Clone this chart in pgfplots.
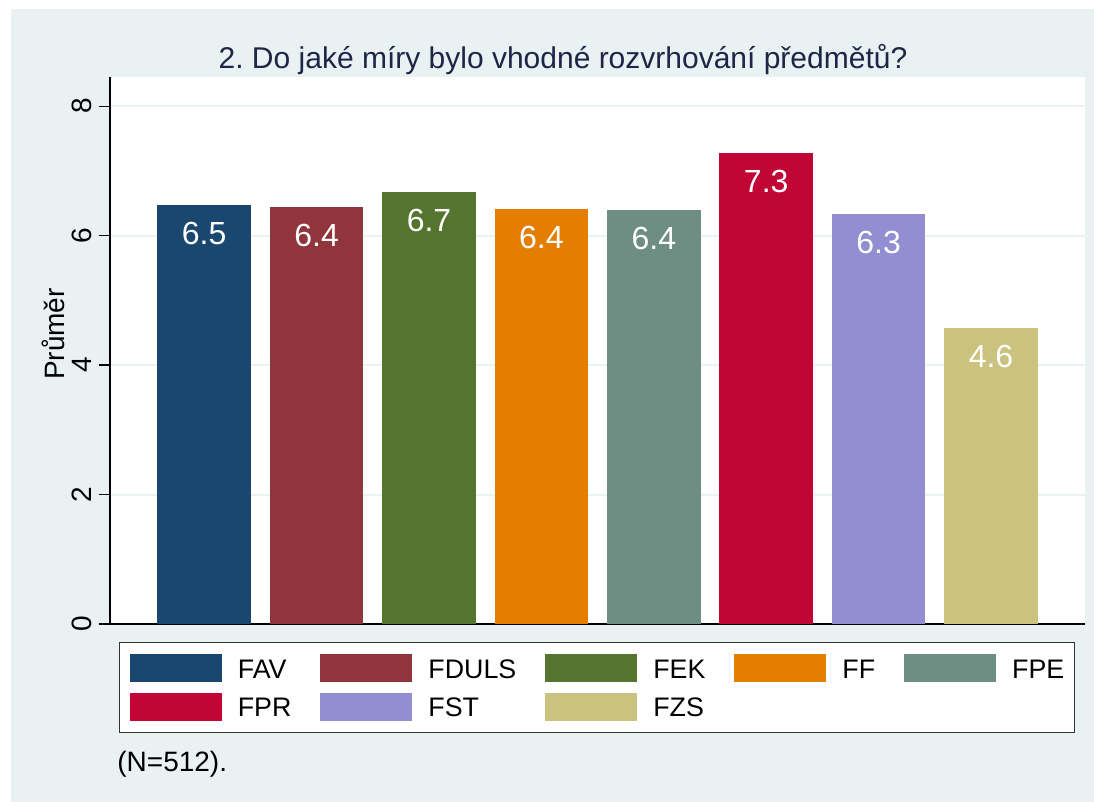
\documentclass[border=0pt]{standalone}
\usepackage{pgfplots}
\pgfplotsset{compat=1.18}
\usepackage{fontspec}
\setmainfont{Liberation Sans}
\frenchspacing
\definecolor{bgcol}{RGB}{233,241,243}
\definecolor{gridcol}{RGB}{234,242,243}
\definecolor{titlecol}{RGB}{28,38,70}
\definecolor{cFAV}{RGB}{26,71,111}
\definecolor{cFDULS}{RGB}{144,53,59}
\definecolor{cFEK}{RGB}{85,117,47}
\definecolor{cFF}{RGB}{227,126,0}
\definecolor{cFPE}{RGB}{110,142,132}
\definecolor{cFPR}{RGB}{193,5,52}
\definecolor{cFST}{RGB}{147,141,210}
\definecolor{cFZS}{RGB}{202,194,126}
\begin{document}
\begin{tikzpicture}
\useasboundingbox (0,0) rectangle (547pt,401pt);
\fill[white] (0,0) rectangle (547pt,401pt);
\fill[bgcol] (5.25pt,0) rectangle (547pt,396.5pt);
\begin{axis}[
  at={(55pt,89pt)}, anchor=south west,
  scale only axis, width=487.5pt, height=273.5pt,
  xmin=-0.838, xmax=7.836, ymin=0, ymax=8.45,
  ybar, bar width=0.832,
  axis background/.style={fill=white},
  axis x line*=bottom, axis y line*=left,
  axis line style={-, black, line width=0.6pt},
  xtick=\empty,
  ytick={0,2,4,6,8},
  tick align=outside, major tick length=5.5pt,
  ytick style={black, line width=0.6pt},
  ymajorgrids, grid style={gridcol, line width=1pt},
  /pgf/number format/assume math mode=true,
  yticklabel style={rotate=90, anchor=south, font=\fontsize{14}{16}\selectfont},
  every axis y label/.style={at={(axis description cs:-0.0462,0.53)}, rotate=90, anchor=base},
  ylabel={Průměr},
  ylabel style={font=\fontsize{14}{16}\selectfont},
  nodes near coords={\pgfmathprintnumber[fixed,precision=1,fixed zerofill]{\pgfplotspointmeta}},
  every node near coord/.append style={white, anchor=center, yshift=-14.25pt, font=\fontsize{16}{18}\selectfont},
  legend columns=5,
  legend image code/.code={\fill[#1] (0pt,-2pt) rectangle (46pt,12pt);},
  legend style={at={(0.0095,-0.0324)}, anchor=north west, draw=black!80, line width=0.6pt,
    fill=white, inner xsep=5pt, inner ysep=6pt,
    font=\fontsize{13.4}{15}\selectfont,
    nodes={inner sep=0pt, anchor=base west},
    column sep=8pt, row sep=5.2pt,
    /tikz/every even column/.append style={column sep=14.5pt}},
]
\addplot[fill=cFAV, draw=none, bar shift=0pt] coordinates {(0,6.47)};
\addlegendentry{FAV}
\addplot[fill=cFDULS, draw=none, bar shift=0pt] coordinates {(1,6.44)};
\addlegendentry{FDULS}
\addplot[fill=cFEK, draw=none, bar shift=0pt] coordinates {(2,6.67)};
\addlegendentry{FEK}
\addplot[fill=cFF, draw=none, bar shift=0pt] coordinates {(3,6.41)};
\addlegendentry{FF}
\addplot[fill=cFPE, draw=none, bar shift=0pt] coordinates {(4,6.40)};
\addlegendentry{FPE}
\addplot[fill=cFPR, draw=none, bar shift=0pt] coordinates {(5,7.27)};
\addlegendentry{FPR}
\addplot[fill=cFST, draw=none, bar shift=0pt] coordinates {(6,6.33)};
\addlegendentry{FST}
\addplot[fill=cFZS, draw=none, bar shift=0pt] coordinates {(7,4.58)};
\addlegendentry{FZS}
\end{axis}
\node[anchor=base, text=titlecol, font=\fontsize{15}{17}\selectfont] at (281.5pt,366.5pt) {2. Do jaké míry bylo vhodné rozvrhování předmětů?};
\node[anchor=base west, inner sep=0pt, font=\fontsize{14}{16}\selectfont] at (58.5pt,15pt) {(N=512).};
\end{tikzpicture}
\end{document}
